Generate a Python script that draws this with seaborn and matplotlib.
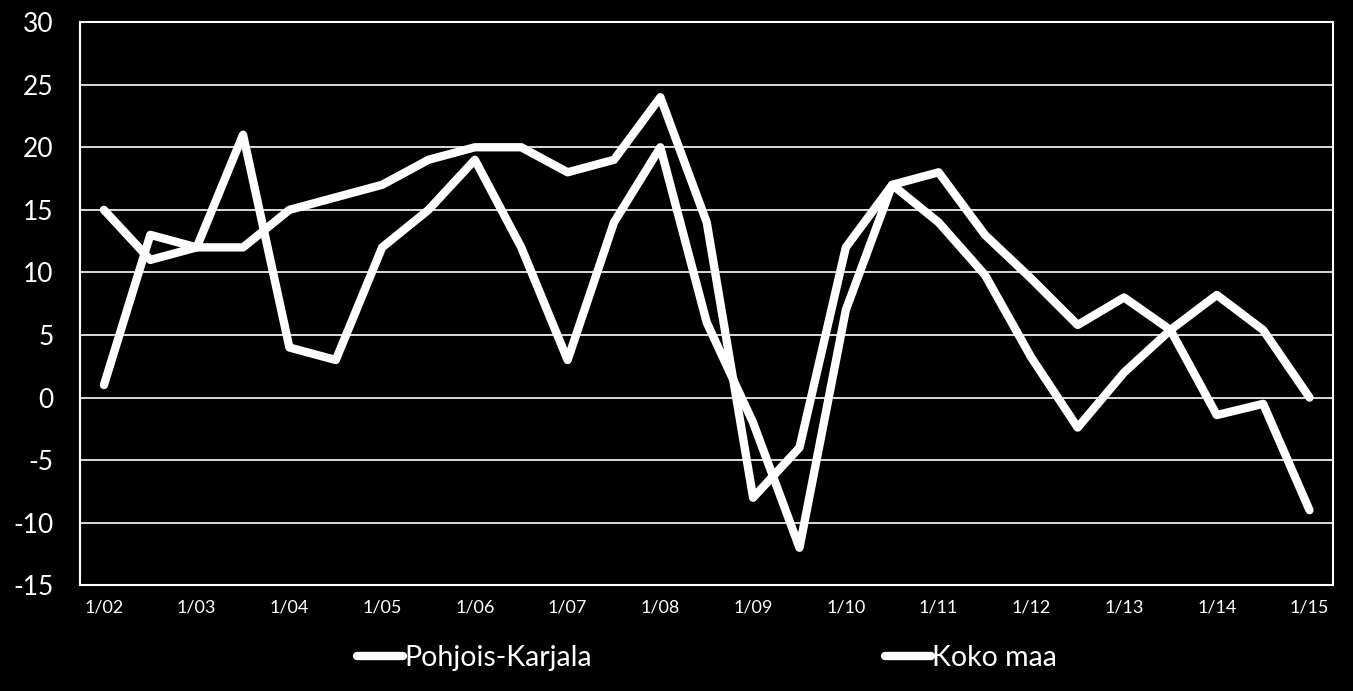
import matplotlib
matplotlib.use("Agg")
import matplotlib.pyplot as plt
import seaborn as sns
import pandas as pd

# half-year points from 1/02 to 1/15
tick_labels = ['1/02', '1/03', '1/04', '1/05', '1/06', '1/07', '1/08',
               '1/09', '1/10', '1/11', '1/12', '1/13', '1/14', '1/15']
pohjois_karjala = [1, 13, 12, 21, 4, 3, 12, 15, 19, 12, 3, 14, 20, 6,
                   -2, -12, 7, 17, 14, 9.8, 3.2, -2.4, 2, 5.4, -1.4, -0.5, -9]
koko_maa = [15, 11, 12, 12, 15, 16, 17, 19, 20, 20, 18, 19, 24, 14,
            -8, -4, 12, 17, 18, 13, 9.5, 5.8, 8, 5.4, 8.2, 5.4, 0]
series_names = ['Pohjois-Karjala', 'Koko maa']

n = len(koko_maa)
df = pd.DataFrame({
    'jakso': list(range(n)) * 2,
    'arvo': pohjois_karjala + koko_maa,
    'sarja': [series_names[0]] * n + [series_names[1]] * n,
})

sns.set_style("dark")
plt.rcParams['font.family'] = ['Lato', 'DejaVu Sans']
plt.rcParams['axes.unicode_minus'] = False

fig = plt.figure(figsize=(13.53, 6.91), dpi=100, facecolor='black')
ax = fig.add_axes([0.059, 0.153, 0.926, 0.815])
ax.set_facecolor('black')

sns.lineplot(data=df, x='jakso', y='arvo', hue='sarja', hue_order=series_names,
             palette=['white', 'white'], linewidth=6, ax=ax, legend=False,
             solid_capstyle='round', solid_joinstyle='round')

ax.set_xlim(-0.52, 26.5)
ax.set_ylim(-15, 30)
ax.set_yticks(range(-15, 31, 5))
ax.set_xticks(range(0, n, 2))
ax.set_xticklabels(tick_labels)
ax.tick_params(axis='y', colors='white', labelsize=19, length=0, pad=19)
ax.tick_params(axis='x', colors='white', labelsize=13, length=0, pad=10)
ax.set_xlabel('')
ax.set_ylabel('')
ax.grid(axis='y', color='white', linewidth=1.2)
ax.grid(axis='x', visible=False)
for sp in ax.spines.values():
    sp.set_visible(True)
    sp.set_color('white')
    sp.set_linewidth(1.5)

handles = [plt.Line2D([0], [0], color='white', linewidth=6, solid_capstyle='round')
           for _ in series_names]
leg = fig.legend(handles, series_names, loc='center', bbox_to_anchor=(0.5226, 0.048),
                 ncol=2, frameon=False, fontsize=20.5, handlelength=1.6,
                 handletextpad=0.05, columnspacing=10.3)
for t in leg.get_texts():
    t.set_color('white')

fig.savefig('out.png', dpi=100, facecolor='black')
